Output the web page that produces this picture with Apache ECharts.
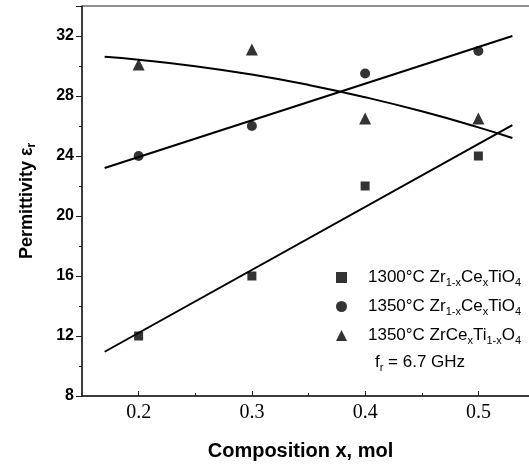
<!DOCTYPE html>
<html>
<head>
<meta charset="utf-8">
<script src="https://cdn.jsdelivr.net/npm/echarts@6/dist/echarts.min.js"></script>
<style>
  html, body { margin: 0; padding: 0; background: #fff; }
  #chart { width: 529px; height: 465px; }
</style>
</head>
<body>
<div id="chart"></div>
<script>
// composition values (x, mol)
const compX = [0.2, 0.3, 0.4, 0.5];
// measured permittivity
const zrCe1300 = [12, 16, 22, 24];
const zrCe1350 = [24, 26, 29.5, 31];
const zrTi1350 = [30.1, 31.1, 26.5, 26.5];

// fitted lines
const fitSqX = [0.17, 0.53];
const fitSqY = [10.95, 26.06];
const fitCiX = [0.17, 0.53];
const fitCiY = [23.2, 32.0];
const fitTrX = [0.17, 0.2, 0.25, 0.3, 0.35, 0.4, 0.45, 0.5, 0.53];
const fitTrY = [30.62, 30.42, 29.99, 29.43, 28.74, 27.92, 26.98, 25.91, 25.2];

// axis ticks
const xTicks = [0.2, 0.3, 0.4, 0.5];
const xMinor = [0.25, 0.35, 0.45];

const names = ['1300°C Zr1-xCexTiO4', '1350°C Zr1-xCexTiO4', '1350°C ZrCexTi1-xO4'];
const legendRich = {
  '1300°C Zr1-xCexTiO4': '1300°C Zr{s|1-x}Ce{s|x}TiO{s|4}',
  '1350°C Zr1-xCexTiO4': '1350°C Zr{s|1-x}Ce{s|x}TiO{s|4}',
  '1350°C ZrCexTi1-xO4': '1350°C ZrCe{s|x}Ti{s|1-x}O{s|4}'
};

function zip(xs, ys) {
  return xs.map((x, i) => [x, ys[i]]);
}

let myChart = echarts.init(document.getElementById('chart'));

let fitLine = {
  type: 'line',
  showSymbol: false,
  silent: true,
  lineStyle: { color: '#000', width: 2 },
  z: 1
};

let option = {
  animation: false,
  grid: {
    left: 82,
    top: 6,
    right: -6, // right edge falls just outside the picture
    bottom: 69,
    outerBoundsMode: 'none',
    containLabel: false,
    show: true,
    borderColor: '#222',
    borderWidth: 1
  },
  legend: {
    data: names,
    orient: 'vertical',
    left: 336,
    top: 269,
    padding: 0,
    itemWidth: 11,
    itemHeight: 11,
    itemGap: 10,
    selectedMode: false,
    formatter: function (name) {
      return legendRich[name];
    },
    textStyle: {
      color: '#000',
      fontSize: 17,
      fontFamily: 'Liberation Sans',
      padding: [0, 0, 0, 16],
      rich: {
        s: { fontSize: 11, fontFamily: 'Liberation Sans', color: '#000', padding: [10, 0, 0, 0] }
      }
    }
  },
  xAxis: [{
    type: 'value',
    min: 0.15,
    max: 0.55,
    position: 'bottom',
    name: 'Composition x, mol',
    nameLocation: 'middle',
    nameGap: 45,
    nameTextStyle: {
      color: '#000',
      fontSize: 20,
      fontWeight: 'bold',
      fontFamily: 'Liberation Sans',
      padding: [0, 16, 0, 0]
    },
    axisLine: { lineStyle: { color: '#222', width: 1.5 } },
    axisTick: { inside: true, length: 5, customValues: xTicks, lineStyle: { color: '#222' } },
    axisLabel: {
      customValues: xTicks,
      formatter: function (v) { return v.toFixed(1); },
      color: '#000',
      fontSize: 20,
      fontFamily: 'Liberation Serif',
      margin: 7
    },
    splitLine: { show: false }
  }, {
    type: 'value',
    min: 0.15,
    max: 0.55,
    position: 'bottom',
    offset: 0,
    axisLine: { show: false },
    axisTick: { inside: true, length: 3, customValues: xMinor, lineStyle: { color: '#222' } },
    axisLabel: { show: false },
    splitLine: { show: false }
  }],
  yAxis: {
    type: 'value',
    min: 8,
    max: 34,
    interval: 4,
    name: 'Permittivity ε{s|r}',
    nameLocation: 'middle',
    nameGap: 44,
    nameTextStyle: {
      color: '#000',
      fontSize: 18,
      fontWeight: 'bold',
      fontFamily: 'Liberation Sans',
      rich: {
        s: { fontSize: 12, fontWeight: 'bold', fontFamily: 'Liberation Sans', color: '#000', padding: [10, 0, 0, 0] }
      }
    },
    axisLine: { show: true, lineStyle: { color: '#222', width: 1.5 } },
    axisTick: { show: true, length: 6, lineStyle: { color: '#222' } },
    minorTick: { show: true, splitNumber: 2, length: 3, lineStyle: { color: '#222' } },
    axisLabel: {
      showMaxLabel: false,
      color: '#000',
      fontSize: 16,
      fontWeight: 'bold',
      fontFamily: 'Liberation Sans',
      margin: 8
    },
    splitLine: { show: false }
  },
  graphic: [{
    type: 'text',
    left: 375,
    top: 354,
    style: {
      text: '{n|f}{s|r}{n| = 6.7 GHz}',
      rich: {
        n: { fontSize: 17, fontFamily: 'Liberation Sans', fill: '#000' },
        s: { fontSize: 11, fontFamily: 'Liberation Sans', fill: '#000', padding: [10, 0, 0, 0] }
      }
    }
  }],
  series: [
    Object.assign({}, fitLine, { name: 'fit1', data: zip(fitSqX, fitSqY) }),
    Object.assign({}, fitLine, { name: 'fit2', data: zip(fitCiX, fitCiY) }),
    Object.assign({}, fitLine, { name: 'fit3', smooth: true, data: zip(fitTrX, fitTrY) }),
    {
      name: names[0],
      type: 'scatter',
      symbol: 'rect',
      symbolSize: 9,
      itemStyle: { color: '#000' },
      data: zip(compX, zrCe1300),
      z: 3
    },
    {
      name: names[1],
      type: 'scatter',
      symbol: 'circle',
      symbolSize: 10,
      itemStyle: { color: '#000' },
      data: zip(compX, zrCe1350),
      z: 3
    },
    {
      name: names[2],
      type: 'scatter',
      symbol: 'triangle',
      symbolSize: 12,
      itemStyle: { color: '#000' },
      data: zip(compX, zrTi1350),
      z: 3
    }
  ]
};

myChart.setOption(option);
</script>
</body>
</html>
